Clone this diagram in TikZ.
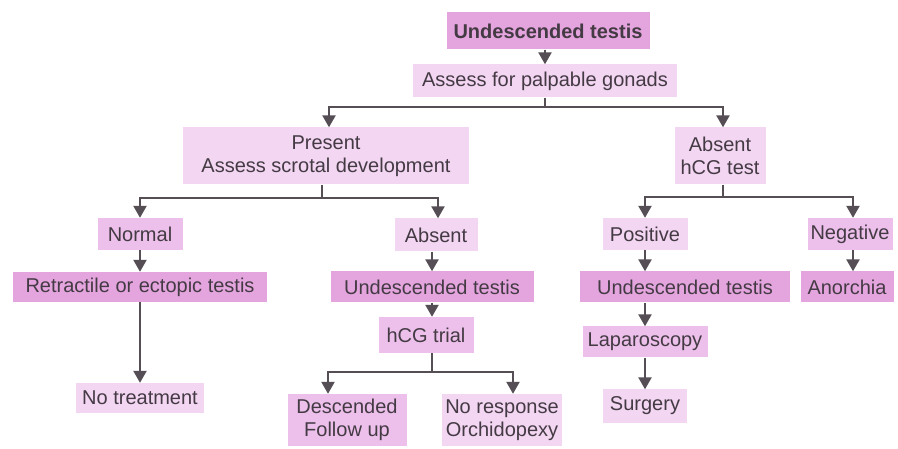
\documentclass[tikz,border=0pt]{standalone}
\usepackage{fontspec}
\setmainfont{Liberation Sans}
\usetikzlibrary{arrows.meta}
\definecolor{pinkD}{RGB}{228,165,222}
\definecolor{pinkM}{RGB}{236,192,234}
\definecolor{pinkL}{RGB}{243,214,242}
\definecolor{txt}{RGB}{68,58,68}
\definecolor{lin}{RGB}{85,78,85}
\begin{document}
\begin{tikzpicture}[x=1pt,y=-1pt,
  box/.style={inner sep=0pt, align=center, font=\fontsize{20}{23}\selectfont, text=txt},
  dk/.style={box, fill=pinkD},
  md/.style={box, fill=pinkM},
  lt/.style={box, fill=pinkL},
  ln/.style={draw=lin, line width=2.4pt},
  arr/.style={ln, -{Triangle[width=13pt,length=12pt]}}]
\fill[white] (0,0) rectangle (898,449);
\useasboundingbox (0,0) rectangle (898,449);
% nodes
\node[dk, minimum width=203pt, minimum height=37pt, font=\fontsize{20}{23}\selectfont\bfseries] (top) at (548,31) {Undescended testis};
\node[lt, minimum width=264pt, minimum height=33pt] (assess) at (545,81) {Assess for palpable gonads};
\node[lt, minimum width=286pt, minimum height=57pt] (present) at (326,156) {Present\\Assess scrotal development};
\node[lt, minimum width=91pt, minimum height=57pt] (absR) at (720,156) {Absent\\hCG test};
\node[md, minimum width=85pt, minimum height=32pt] (normal) at (140,234) {Normal};
\node[lt, minimum width=83pt, minimum height=33pt] (absM) at (436,235) {Absent};
\node[dk, minimum width=254pt, minimum height=30pt] (retr) at (140,287) {Retractile or ectopic testis};
\node[dk, minimum width=203pt, minimum height=31pt] (undM) at (432,287) {Undescended testis};
\node[md, minimum width=95pt, minimum height=36pt] (hcg) at (426,335) {hCG trial};
\node[lt, minimum width=128pt, minimum height=30pt] (notreat) at (140,398) {No treatment};
\node[md, minimum width=119pt, minimum height=52pt] (desc) at (347,420) {Descended\\Follow up};
\node[lt, minimum width=120pt, minimum height=52pt] (noresp) at (502,420) {No response\\Orchidopexy};
\node[lt, minimum width=85pt, minimum height=32pt] (pos) at (645,234) {Positive};
\node[md, minimum width=85pt, minimum height=32pt] (neg) at (850,234) {Negative};
\node[dk, minimum width=210pt, minimum height=31pt] (undR) at (685,287) {Undescended testis};
\node[dk, minimum width=93pt, minimum height=31pt] (anor) at (847,287) {Anorchia};
\node[md, minimum width=125pt, minimum height=31pt] (lap) at (645,342) {Laparoscopy};
\node[lt, minimum width=84pt, minimum height=33pt] (surg) at (645,406) {Surgery};
% junctions
\coordinate (j1) at (545,107);
\coordinate (j2) at (322,198);
\coordinate (j3) at (723,197);
\coordinate (j4) at (432,372);
% connectors
\draw[arr] (top.south -| assess.north) -- (assess.north);
\draw[ln] (assess.south) -- (j1);
\draw[arr] (j1) -| ([xshift=3pt]present.north);
\draw[arr] (j1) -| ([xshift=3pt]absR.north);
\draw[ln] (present.south -| j2) -- (j2);
\draw[arr] (j2) -| (normal.north);
\draw[arr] (j2) -| ([xshift=2pt]absM.north);
\draw[ln] (absR.south -| j3) -- (j3);
\draw[arr] (j3) -| (pos.north);
\draw[arr] (j3) -| ([xshift=3pt]neg.north);
\draw[arr] (normal.south) -- (retr.north);
\draw[arr] (retr.south) -- (notreat.north);
\draw[arr] (absM.south -| undM.north) -- (undM.north);
\draw[arr] (undM.south -| j4) -- (hcg.north -| j4);
\draw[ln] (hcg.south -| j4) -- (j4);
\draw[arr] (j4) -| ([xshift=-19pt]desc.north);
\draw[arr] (j4) -| ([xshift=11pt]noresp.north);
\draw[arr] (pos.south) -- (pos.south |- undR.north);
\draw[arr] (lap.north |- undR.south) -- (lap.north);
\draw[arr] (lap.south) -- (surg.north);
\draw[arr] ([xshift=3pt]neg.south) -- ([xshift=3pt]neg.south |- anor.north);
\end{tikzpicture}
\end{document}
